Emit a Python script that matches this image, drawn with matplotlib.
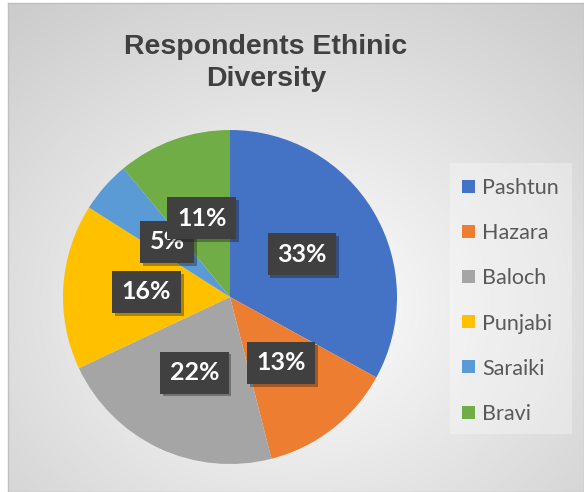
import numpy as np
import matplotlib
matplotlib.use("Agg")
import matplotlib.pyplot as plt
from matplotlib.patches import Rectangle
import matplotlib.patheffects as pe

# Survey shares by ethnic group (percent)
groups = ["Pashtun", "Hazara", "Baloch", "Punjabi", "Saraiki", "Bravi"]
shares = [33, 13, 22, 16, 5, 11]
colors = ["#4472C4", "#ED7D31", "#A5A5A5", "#FFC000", "#5B9BD5", "#70AD47"]
title = "Respondents Ethinic\nDiversity"

W, H = 584, 492
fig = plt.figure(figsize=(W / 100, H / 100), dpi=100, facecolor="white")

# Chart area with a soft radial gradient
bg = fig.add_axes([8 / W, 0, (W - 8) / W, (H - 3) / H])
ny, nx = 400, 480
yy, xx = np.mgrid[0:ny, 0:nx]
cx, cy = nx * 0.50, ny * 0.62
r = np.sqrt(((xx - cx) / nx) ** 2 + ((yy - cy) / ny) ** 2)
r = np.clip(r / 0.78, 0, 1)
shade = 1.0 - 0.20 * r ** 1.0
bg.imshow(np.dstack([shade] * 3), aspect="auto", extent=[0, 1, 0, 1], origin="upper")
bg.set_xticks([])
bg.set_yticks([])
for s in bg.spines.values():
    s.set_color("#c0c0c0")
    s.set_linewidth(1)

# Title
fig.text(266 / W, 1 - 63 / H, title, ha="center", va="center",
         fontsize=20.5, fontweight="bold", color="#404040",
         family="Liberation Sans", linespacing=1.3)

# Pie
cxp, cyp, rad = 230, 297, 167
ax = fig.add_axes([(cxp - rad) / W, (H - cyp - rad) / H, 2 * rad / W, 2 * rad / H])
ax.set_facecolor("none")
wedges, texts, autotexts = ax.pie(
    shares, colors=colors, startangle=90, counterclock=False,
    autopct="%d%%", pctdistance=0.5, radius=1.0,
    wedgeprops=dict(linewidth=0),
    textprops=dict(color="white", fontsize=18, fontweight="bold", family="Lato"),
)
ax.set_xlim(-1, 1)
ax.set_ylim(-1, 1)
ax.set_aspect("equal")
ax.axis("off")
for t in autotexts:
    t.set_bbox(dict(boxstyle="square,pad=0.38", facecolor="#404040", edgecolor="none"))
    t.get_bbox_patch().set_path_effects(
        [pe.SimplePatchShadow(offset=(2, -2), alpha=0.35), pe.Normal()])

# Legend panel
fig.patches.append(Rectangle((450 / W, 1 - 434 / H), 122 / W, 271 / H,
                             transform=fig.transFigure, facecolor="white",
                             alpha=0.3, edgecolor="none"))
row0, step = 186, 45.2
for i, (name, c) in enumerate(zip(groups, colors)):
    yc = row0 + i * step
    fig.patches.append(Rectangle((462 / W, 1 - (yc + 6.5) / H), 13 / W, 13 / H,
                                 transform=fig.transFigure, facecolor=c,
                                 edgecolor="none"))
    fig.text(482 / W, 1 - yc / H, name, ha="left", va="center_baseline",
             fontsize=15.5, color="#595959", family="Lato")

fig.savefig("out.png", dpi=100, facecolor="white")
